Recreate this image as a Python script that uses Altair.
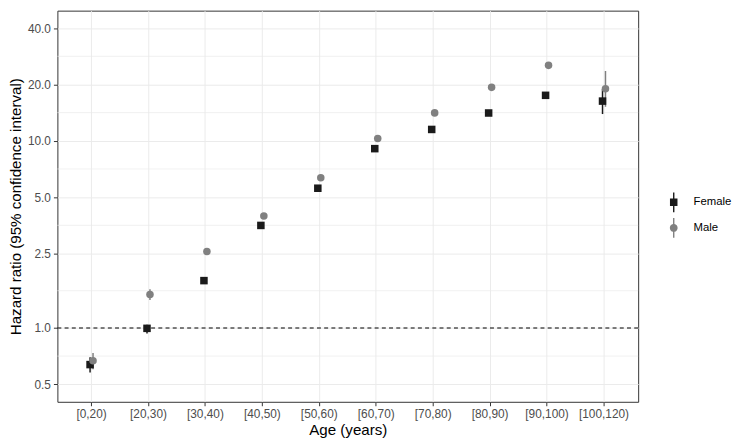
import altair as alt
import pandas as pd

# ---------------- data ----------------
age_groups = ["[0,20)", "[20,30)", "[30,40)", "[40,50)", "[50,60)",
              "[60,70)", "[70,80)", "[80,90)", "[90,100)", "[100,120)"]
sexes = ["Female", "Male"]

female_hr = [0.637, 0.995, 1.79, 3.53, 5.58, 9.08, 11.5, 14.08, 17.5, 16.3]
female_lo = [0.578, 0.935, 1.74, 3.45, 5.45, 8.85, 11.2, 13.7, 17.0, 13.9]
female_hi = [0.698, 1.040, 1.84, 3.62, 5.72, 9.32, 11.8, 14.5, 18.1, 18.9]

male_hr = [0.668, 1.51, 2.56, 3.96, 6.34, 10.3, 14.1, 19.3, 25.3, 19.0]
male_lo = [0.602, 1.41, 2.49, 3.87, 6.20, 10.05, 13.75, 18.8, 24.6, 15.2]
male_hi = [0.735, 1.61, 2.63, 4.06, 6.48, 10.55, 14.45, 19.8, 26.0, 23.6]

y_tick_values = [0.5, 1.0, 2.5, 5.0, 10.0, 20.0, 40.0]
y_minor_values = [0.7071, 1.5811, 3.5355, 7.0711, 14.142, 28.284]
y_domain = [0.403, 49.6]
reference_hr = [1.0]

colors = ["#1A1A1A", "#808080"]

rows = []
for i, a in enumerate(age_groups):
    rows.append(dict(age=a, sex="Female", hr=female_hr[i], lo=female_lo[i], hi=female_hi[i]))
    rows.append(dict(age=a, sex="Male", hr=male_hr[i], lo=male_lo[i], hi=male_hi[i]))
df = pd.DataFrame(rows)

# ---------------- layout ----------------
W, H = 588, 396
step = W / 10.2
center = step / 2
dodge = 3.0
FONT = "Liberation Sans"

y_scale = alt.Scale(type="log", domain=y_domain, nice=False)
y_axis = alt.Axis(values=y_tick_values, format=".1f", title="Hazard ratio (95% confidence interval)",
                  titlePadding=4)

x_enc = alt.X("age:N", sort=age_groups,
              scale=alt.Scale(type="band", paddingInner=0, paddingOuter=0.1),
              axis=alt.Axis(bandPosition=0.5, labelAngle=0, grid=True,
                            title="Age (years)", titlePadding=3))
xoff = alt.XOffset("sex:N", scale=alt.Scale(type="point", domain=sexes,
                                             range=[center - dodge, center + dodge]))
color_main = alt.Color("sex:N", scale=alt.Scale(domain=sexes, range=colors), legend=None)

minor = alt.Chart(pd.DataFrame({"v": y_minor_values})).mark_rule(
    color="#EBEBEB", strokeWidth=0.7
).encode(y=alt.Y("v:Q", scale=y_scale, axis=y_axis))

refline = alt.Chart(pd.DataFrame({"ref": reference_hr})).mark_rule(
    color="black", strokeWidth=1.1, strokeDash=[4, 3.3]
).encode(y=alt.Y("ref:Q", scale=y_scale, axis=y_axis))

errbars = alt.Chart(df).mark_rule(strokeWidth=1.5).encode(
    x=x_enc, xOffset=xoff,
    y=alt.Y("lo:Q", scale=y_scale, axis=y_axis), y2="hi:Q",
    color=color_main,
)

points = alt.Chart(df).mark_point(filled=True, size=58, opacity=1).encode(
    x=x_enc, xOffset=xoff,
    y=alt.Y("hr:Q", scale=y_scale, axis=y_axis),
    color=color_main,
    shape=alt.Shape("sex:N", scale=alt.Scale(domain=sexes, range=["square", "circle"]), legend=None),
)

female_path = "M-0.07,-1H0.07V-0.38H0.38V0.38H0.07V1H-0.07V0.38H-0.38V-0.38H-0.07Z"
male_path = ("M-0.07,-1H0.07V-0.393A0.4,0.4 0 0,1 0.07,0.393V1H-0.07V0.393"
             "A0.4,0.4 0 0,1 -0.07,-0.393Z")

leg = alt.Legend(orient="none", legendX=614, legendY=184, title=None, padding=0,
                 symbolSize=400, symbolOpacity=1, symbolStrokeWidth=0,
                 labelFont=FONT, labelFontSize=11.5, labelColor="black",
                 labelOffset=10, rowPadding=6)

legend_layer = alt.Chart(pd.DataFrame({"group": sexes})).mark_point(filled=True, opacity=0).encode(
    color=alt.Color("group:N", scale=alt.Scale(domain=sexes, range=colors), legend=leg),
    shape=alt.Shape("group:N", scale=alt.Scale(domain=sexes, range=[female_path, male_path]), legend=leg),
)

chart = alt.layer(minor, refline, errbars, points, legend_layer).resolve_scale(
    color="independent", shape="independent"
).properties(width=W, height=H, padding=0).configure_view(
    stroke="#333333", strokeWidth=1
).configure_axis(
    labelFont=FONT, labelFontSize=12, labelColor="#4D4D4D",
    tickColor="#333333", tickSize=4, labelPadding=3,
    titleFont=FONT, titleFontSize=15.3, titleColor="black", titleFontWeight="normal",
    gridColor="#EBEBEB", gridWidth=1, domain=False,
)

chart.save("out.html", embed_options={"renderer": "svg", "actions": False})
